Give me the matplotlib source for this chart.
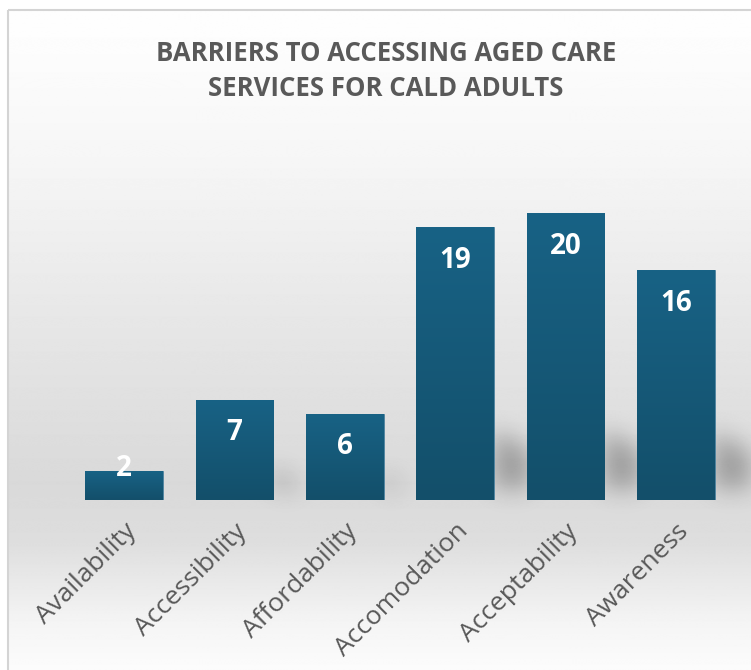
import numpy as np
import matplotlib.pyplot as plt
import matplotlib.transforms as mtransforms
from matplotlib.patches import Rectangle
from matplotlib.colors import LinearSegmentedColormap

categories = ['Availability', 'Accessibility', 'Affordability',
              'Accomodation', 'Acceptability', 'Awareness']
counts = [2, 7, 6, 19, 20, 16]
title = 'BARRIERS TO ACCESSING AGED CARE\nSERVICES FOR CALD ADULTS'

W, H = 751, 670
fig = plt.figure(figsize=(W / 100, H / 100), dpi=100, facecolor='white')

# background: grey vertical gradient inside a thin chart border
bg = fig.add_axes([0, 0, 1, 1])
bg.set_axis_off()
stops_y = [10, 150, 300, 480, 540, 620, 670]
stops_v = [254, 246, 232, 217, 222, 244, 252]
col = np.interp(np.arange(H), stops_y, stops_v) / 255
bg.imshow(np.repeat(col[:, None], 2, axis=1), cmap='gray', vmin=0, vmax=1,
          aspect='auto', extent=[8, W + 5, H, 10], interpolation='bilinear')
bg.add_patch(Rectangle((8, 10), W, H, fill=False, ec='#d4d4d4', lw=1.5))

ax = fig.add_axes([69 / W, 170 / H, 662 / W, 287 / H])
ax.set_facecolor('none')
for s in ax.spines.values():
    s.set_visible(False)
ax.set_yticks([])

x = np.arange(len(categories))
bars = ax.bar(x, counts, width=0.705, color='#155a7a', edgecolor='#4f84a0',
              linewidth=0.6, zorder=2)
ax.set_xlim(-0.5, 5.5)
ax.set_ylim(0, 20)

# soft slanted shadows to the right of the bars
shade = np.zeros((H, W))
for b in bars:
    ext = b.get_window_extent()
    x1 = int(ext.x1)
    base = H - int(ext.y0)
    top = base - int(min(0.3 * ext.height, 70))
    for d in range(0, 36):
        if x1 + d >= W:
            break
        t = top + int(0.6 * d)
        shade[t:base - 12, x1 + d] = 1.0
k = np.exp(-0.5 * (np.arange(-40, 41) / 12.0) ** 2)
k /= k.sum()
shade = np.apply_along_axis(lambda r: np.convolve(r, k, mode='same'), 1, shade)
shade = np.apply_along_axis(lambda c: np.convolve(c, k, mode='same'), 0, shade)
rgba = np.zeros((H, W, 4))
rgba[..., 3] = 0.3 * shade
bg.imshow(rgba, extent=[0, W, H, 0], aspect='auto', interpolation='bilinear')
bg.set_xlim(0, W)
bg.set_ylim(H, 0)

# vertical gradient on each bar
cmap = LinearSegmentedColormap.from_list('bar', ['#134f6a', '#186285'])
grad = np.linspace(0, 1, 100)[:, None]
for b in bars:
    x0, w, h = b.get_x(), b.get_width(), b.get_height()
    im = ax.imshow(grad, cmap=cmap, aspect='auto', origin='lower',
                   extent=[x0, x0 + w, 0, h], zorder=2.5)
    im.set_clip_path(b)
ax.set_xlim(-0.5, 5.5)
ax.set_ylim(0, 20)

for xi, v in zip(x, counts):
    ax.text(xi, max(v - 2.3, 2.2), str(v), ha='center', va='center',
            color='white', fontsize=20, fontweight='bold',
            family='Open Sans', zorder=3)

ax.set_xticks(x)
ax.set_xticklabels(categories, rotation=45, ha='right', va='center',
                   rotation_mode='anchor', fontsize=19, color='#595959',
                   family='Open Sans')
ax.tick_params(axis='x', length=0, pad=20)
shift = mtransforms.ScaledTranslation(9 / 100, 0, fig.dpi_scale_trans)
for lab in ax.get_xticklabels():
    lab.set_transform(lab.get_transform() + shift)

fig.text(386 / W, 1 - 71 / H, title, ha='center', va='center',
         fontsize=18.5, fontweight='bold', color='#595959',
         family='Open Sans', linespacing=1.4)

fig.savefig('out.png', dpi=100)
